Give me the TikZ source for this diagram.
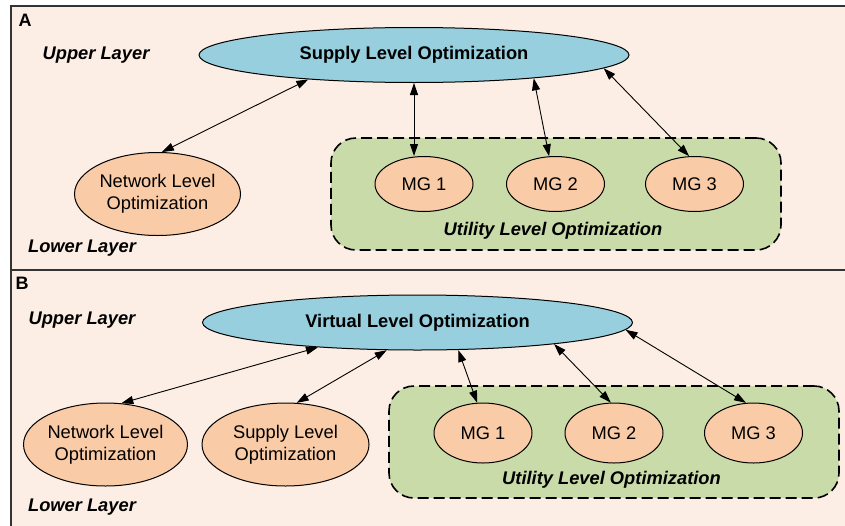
\documentclass[tikz,border=0pt]{standalone}
\usepackage{fontspec}
\setmainfont{Liberation Sans}
\usepackage{xcolor}
\usepackage{tikz}
\usetikzlibrary{positioning,arrows.meta,shapes.geometric}

\definecolor{panelbg}{HTML}{FCEEE4}
\definecolor{topblue}{HTML}{97CFDE}
\definecolor{lowpeach}{HTML}{F9CBA6}
\definecolor{utilgreen}{HTML}{C8DBA8}
\definecolor{framegray}{HTML}{333333}

\begin{document}
\begin{tikzpicture}[x=1pt, y=-1pt, <->, >={Triangle[length=12pt,width=8pt]},
		font=\fontsize{18.3}{22}\selectfont,
		topopt/.style={ellipse, draw, line width=1pt, fill=topblue, inner sep=0pt,
			minimum width=430pt, minimum height=55pt, font=\fontsize{18.3}{22}\selectfont\bfseries},
		lowopt/.style={ellipse, draw, line width=1pt, fill=lowpeach, inner sep=0pt,
			minimum width=166pt, minimum height=83pt, align=center},
		mgnode/.style={ellipse, draw, line width=1pt, fill=lowpeach, inner sep=0pt,
			minimum width=98pt, minimum height=55pt},
		utilbox/.style={draw, line width=1.6pt, dash pattern=on 11pt off 5pt, fill=utilgreen,
			rounded corners=25pt, minimum width=450pt, minimum height=112pt, inner sep=0pt},
		layerlbl/.style={font=\fontsize{18.3}{22}\selectfont\bfseries\itshape},
		panellbl/.style={font=\fontsize{18}{22}\selectfont\bfseries},
		link/.style={line width=0.9pt}]
			\useasboundingbox (0,0) rectangle (845,525);
			\clip (0,0) rectangle (845,525);
			\fill[white] (0,0) rectangle (845,525);
			\draw[-, line width=1.5pt, draw=framegray, fill=panelbg] (11,6) rectangle (860,270);
			\draw[-, line width=1.5pt, draw=framegray, fill=panelbg] (11,270) rectangle (860,540);

			% panel A
			\node[panellbl] (labA) at (25,20) {A};
			\node[layerlbl] (upA) at (96,55) {Upper Layer};
			\node[layerlbl] (lowA) at (82,248) {Lower Layer};
			\node[utilbox] (utilA) at (556,194) {};
			\node[layerlbl] (utiltxtA) at (553,231) {Utility Level Optimization};
			\node[topopt] (supA) at (414,55) {Supply Level Optimization};
			\node[lowopt] (netA) at (157.5,194) {Network Level\\Optimization};
			\node[mgnode] (mg1A) at (424,184) {MG 1};
			\node[mgnode] (mg2A) at (555.5,184) {MG 2};
			\node[mgnode] (mg3A) at (694.5,184) {MG 3};

			\draw[link] (netA.84) -- (supA.193);
			\draw[link] (supA.south) -- (supA.south |- mg1A.north);
			\draw[link] (supA.349.6) -- (mg2A.103);
			\draw[link] (supA.356) -- (mg3A.101);

			% panel B
			\node[panellbl] (labB) at (22,283) {B};
			\node[layerlbl] (upB) at (82,320) {Upper Layer};
			\node[layerlbl] (lowB) at (82,507) {Lower Layer};
			\node[utilbox] (utilB) at (614,442) {};
			\node[layerlbl] (utiltxtB) at (611.5,480) {Utility Level Optimization};
			\node[topopt] (virB) at (417.5,322.5) {Virtual Level Optimization};
			\node[lowopt, minimum width=161pt] (netB) at (105.5,444.5) {Network Level\\Optimization};
			\node[lowopt, minimum width=167pt] (supB) at (285.5,444.5) {Supply Level\\Optimization};
			\node[mgnode, minimum height=60pt] (mg1B) at (483,433) {MG 1};
			\node[mgnode, minimum height=60pt] (mg2B) at (614,433) {MG 2};
			\node[mgnode, minimum height=60pt] (mg3B) at (753.5,433) {MG 3};

			\draw[link] (netB.69) -- (virB.194.4);
			\draw[link] (supB.75.7) -- (virB.222.7);
			\draw[link] (virB.326.3) -- (mg1B.101.4);
			\draw[link] (virB.351.5) -- (mg2B.96);
			\draw[link] (virB.358) -- (mg3B.104);
		\end{tikzpicture}
\end{document}
